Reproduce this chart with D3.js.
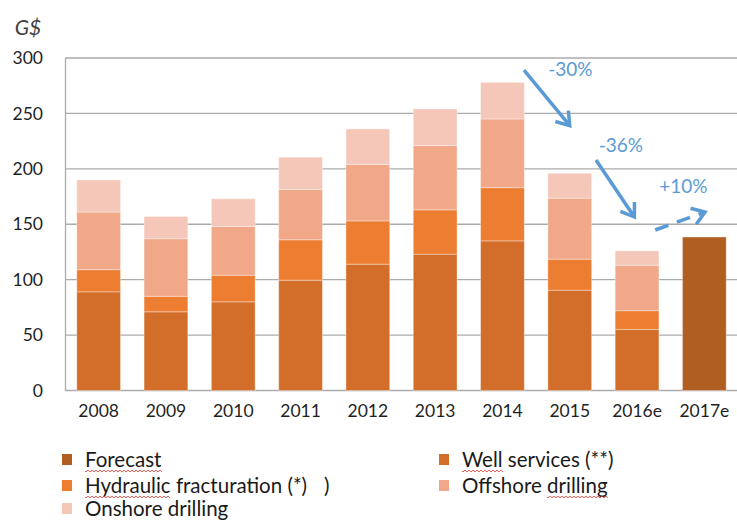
<!DOCTYPE html>
<html>
<head>
<meta charset="utf-8">
<script src="https://cdn.jsdelivr.net/npm/d3@7"></script>
<style>
  body { margin: 0; background: #fff; }
  svg { display: block; font-family: Lato, 'Open Sans', sans-serif; }
</style>
</head>
<body>
<svg id="chart"></svg>
<script>
const years = ['2008', '2009', '2010', '2011', '2012', '2013', '2014', '2015', '2016e', '2017e'];
const wellServices = [89, 71, 80, 99.5, 114, 123, 135, 90.5, 55, 0];
const hydraulic = [20, 14, 24, 36.5, 39, 40, 48, 28, 17, 0];
const offshore = [52, 52, 44, 45.5, 51, 58, 62, 55, 41, 0];
const onshore = [29, 20, 25, 29, 32, 33, 33, 22.5, 13, 0];
const forecast = [0, 0, 0, 0, 0, 0, 0, 0, 0, 138.5];
const yTicks = [0, 50, 100, 150, 200, 250, 300];

// arrows: position as category index (fractional) + value
const arrows = [
  { label: '-30%', from: [6.32, 289], to: [7.0, 239], text: [6.68, 284], dashed: false },
  { label: '-36%', from: [7.39, 208], to: [7.96, 156.5], text: [7.43, 215], dashed: false },
  { label: '+10%', from: [8.27, 144.8], to: [9.01, 161], text: [8.33, 178], dashed: true }
];

const seriesKeys = ['well', 'hydraulic', 'offshore', 'onshore', 'forecast'];
const colors = {
  well: '#D26E2A', hydraulic: '#ED7D31', offshore: '#F0A889',
  onshore: '#F5C7B8', forecast: '#B15E23'
};

const legendItems = [
  { key: 'forecast', label: 'Forecast', col: 0, row: 0, wavy: [0, 8] },
  { key: 'well', label: 'Well services (**)', col: 1, row: 0, wavy: [0, 4] },
  { key: 'hydraulic', label: 'Hydraulic fracturation (*)', col: 0, row: 1, wavy: [0, 9] },
  { key: 'offshore', label: 'Offshore drilling', col: 1, row: 1, wavy: [9, 8] },
  { key: 'onshore', label: 'Onshore drilling', col: 0, row: 2, wavy: null }
];

const width = 737, height = 521;
const margin = { top: 58, right: 0, bottom: 130.5, left: 65 };

const svg = d3.select('#chart').attr('width', width).attr('height', height);

const table = years.map((yr, i) => ({
  year: yr, well: wellServices[i], hydraulic: hydraulic[i], offshore: offshore[i],
  onshore: onshore[i], forecast: forecast[i]
}));

const xScale = d3.scaleBand()
  .domain(years)
  .range([margin.left, 738])
  .paddingInner(0.35)
  .paddingOuter(0.175);

const yScale = d3.scaleLinear()
  .domain([0, 300])
  .range([height - margin.bottom, margin.top]);

const xPos = i => xScale(years[0]) + xScale.bandwidth() / 2 + i * xScale.step();

// gridlines
svg.append('g')
  .selectAll('line')
  .data(yTicks)
  .enter()
  .append('line')
  .attr('x1', margin.left)
  .attr('x2', width)
  .attr('y1', d => yScale(d))
  .attr('y2', d => yScale(d))
  .attr('stroke', '#ABABAB')
  .attr('stroke-width', 1.3);

// left axis
const yAxis = d3.axisLeft(yScale).tickValues(yTicks).tickSize(0).tickPadding(22);
const gy = svg.append('g')
  .attr('transform', `translate(${margin.left}, 0)`)
  .call(yAxis);
gy.select('.domain').attr('stroke', '#ABABAB').attr('stroke-width', 1.3);
gy.selectAll('text')
  .attr('font-size', 17.5)
  .attr('font-family', 'Lato, sans-serif')
  .attr('fill', '#1f1f1f');

// bottom axis
const xAxis = d3.axisBottom(xScale).tickSize(0).tickPadding(14);
const gx = svg.append('g')
  .attr('transform', `translate(0, ${yScale(0)})`)
  .call(xAxis);
gx.select('.domain').remove();
gx.selectAll('text')
  .attr('font-size', 17.5)
  .attr('font-family', 'Lato, sans-serif')
  .attr('fill', '#1f1f1f');

// stacked bars
const stack = d3.stack().keys(seriesKeys)(table);
svg.append('g')
  .selectAll('g')
  .data(stack)
  .enter()
  .append('g')
  .attr('fill', d => colors[d.key])
  .selectAll('rect')
  .data(d => d.filter(p => p[1] - p[0] > 0))
  .enter()
  .append('rect')
  .attr('x', d => xScale(d.data.year))
  .attr('y', d => yScale(d[1]))
  .attr('width', xScale.bandwidth())
  .attr('height', d => yScale(d[0]) - yScale(d[1]))
  .attr('stroke', 'rgba(255,255,255,0.35)')
  .attr('stroke-width', 1);

// G$ unit label
svg.append('text')
  .attr('x', 28)
  .attr('y', 35)
  .attr('text-anchor', 'middle')
  .attr('font-size', 21)
  .attr('font-style', 'italic')
  .attr('fill', '#404040')
  .text('G$');

// arrows
const blue = '#5B9BD5';
const ag = svg.append('g');
arrows.forEach(a => {
  const x1 = xPos(a.from[0]), y1 = yScale(a.from[1]);
  const x2 = xPos(a.to[0]), y2 = yScale(a.to[1]);
  ag.append('line')
    .attr('x1', x1).attr('y1', y1).attr('x2', x2).attr('y2', y2)
    .attr('stroke', blue)
    .attr('stroke-width', 3.5)
    .attr('stroke-dasharray', a.dashed ? '14,9' : null);
  const ang = Math.atan2(y2 - y1, x2 - x1);
  const len = 15, spread = 0.6;
  const p1 = [x2 - len * Math.cos(ang - spread), y2 - len * Math.sin(ang - spread)];
  const p2 = [x2 - len * Math.cos(ang + spread), y2 - len * Math.sin(ang + spread)];
  ag.append('path')
    .attr('d', `M${p1[0]},${p1[1]}L${x2},${y2}L${p2[0]},${p2[1]}`)
    .attr('fill', 'none')
    .attr('stroke', blue)
    .attr('stroke-width', 3.5)
    .attr('stroke-linejoin', 'miter');
  ag.append('text')
    .attr('x', xPos(a.text[0]))
    .attr('y', yScale(a.text[1]))
    .attr('font-size', 19)
    .attr('fill', blue)
    .text(a.label);
});

// legend
const colX = [62, 439];
const rowY = [460, 486, 509];
const lg = svg.append('g');
legendItems.forEach(it => {
  const x0 = colX[it.col], cy = rowY[it.row];
  lg.append('rect')
    .attr('x', x0).attr('y', cy - 6)
    .attr('width', 10).attr('height', 11)
    .attr('fill', colors[it.key]);
  const t = lg.append('text')
    .attr('x', x0 + 23)
    .attr('y', cy + 7)
    .attr('font-size', 20.5)
    .attr('fill', '#1a1a1a')
    .text(it.label);
  if (it.wavy) {
    const node = t.node();
    const sx = x0 + 23 + (it.wavy[0] > 0 ? node.getSubStringLength(0, it.wavy[0]) : 0);
    const w = node.getSubStringLength(it.wavy[0], it.wavy[1]);
    const wy = cy + 11;
    let d = `M${sx},${wy}`;
    for (let k = 0; k * 2 < w; k++) {
      d += `L${sx + k * 2 + 1},${wy + (k % 2 ? -1 : 1)}`;
    }
    lg.append('path')
      .attr('d', d)
      .attr('fill', 'none')
      .attr('stroke', '#E8332A')
      .attr('stroke-width', 0.8);
  }
});
// stray parenthesis from the original slide
lg.append('text')
  .attr('x', 324)
  .attr('y', rowY[1] + 7)
  .attr('font-size', 20.5)
  .attr('fill', '#1a1a1a')
  .text(')');
</script>
</body>
</html>
